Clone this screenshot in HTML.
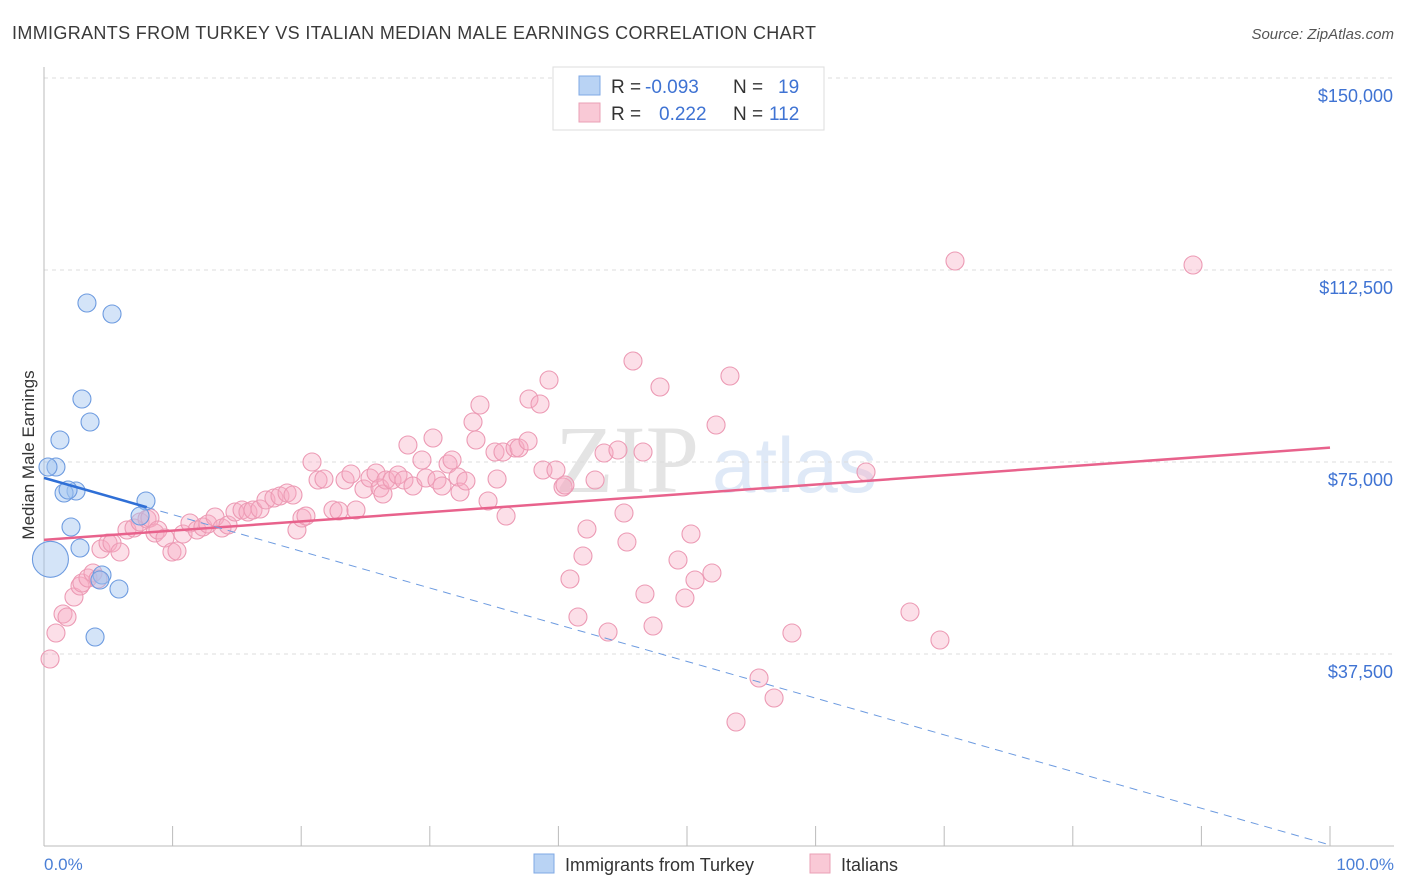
<!DOCTYPE html>
<html><head><meta charset="utf-8">
<style>
body{margin:0;background:#fff;font-family:"Liberation Sans",sans-serif;}
svg{display:block}
</style></head>
<body>
<svg id="chart" width="1406" height="892" viewBox="0 0 1406 892" xmlns="http://www.w3.org/2000/svg">
<text x="12" y="39" font-size="18" fill="#3a3a3a" textLength="804" lengthAdjust="spacing">IMMIGRANTS FROM TURKEY VS ITALIAN MEDIAN MALE EARNINGS CORRELATION CHART</text>
<text x="1394" y="39" font-size="15" fill="#555" text-anchor="end" font-style="italic">Source: ZipAtlas.com</text>
<g>
<text x="555" y="492" font-size="96" fill="#e4e4e4" font-family="Liberation Serif, serif">ZIP</text>
<text x="712" y="492" font-size="78" fill="#dfe9f7">atlas</text>
</g>
<g id="grid"></g>
<g id="axes"></g>
<g id="pinkPts"></g>
<g id="bluePts"></g>
<g id="lines"></g>
<text transform="translate(34,455) rotate(-90)" font-size="17" fill="#333" text-anchor="middle">Median Male Earnings</text>
<text x="44" y="870" font-size="17" fill="#4a7fd6">0.0%</text>
<text x="1394" y="870" font-size="17" fill="#4a7fd6" text-anchor="end">100.0%</text>
<g>
<rect x="553" y="67" width="271" height="63" fill="#fff" stroke="#ddd"/>
<rect x="579" y="76" width="21" height="19" fill="#b9d3f4" stroke="#7fa8e4"/>
<rect x="579" y="103" width="21" height="19" fill="#f9c9d6" stroke="#eaa0b6"/>
<text x="611" y="93" font-size="19" fill="#333">R =</text>
<text x="645" y="93" font-size="19" fill="#3f73d3">-0.093</text>
<text x="733" y="93" font-size="19" fill="#333">N =</text>
<text x="778" y="93" font-size="19" fill="#3f73d3">19</text>
<text x="611" y="120" font-size="19" fill="#333">R =</text>
<text x="659" y="120" font-size="19" fill="#3f73d3">0.222</text>
<text x="733" y="120" font-size="19" fill="#333">N =</text>
<text x="769" y="120" font-size="19" fill="#3f73d3">112</text>
</g>
<g>
<rect x="534" y="854" width="20" height="19" fill="#b9d3f4" stroke="#7fa8e4"/>
<text x="565" y="871" font-size="18" fill="#333">Immigrants from Turkey</text>
<rect x="810" y="854" width="20" height="19" fill="#f9c9d6" stroke="#eaa0b6"/>
<text x="841" y="871" font-size="18" fill="#333">Italians</text>
</g>
</svg>
<script>
const yTicks=[37500,75000,112500,150000];
const yTickLabels=["$37,500","$75,000","$112,500","$150,000"];
const pinkPx=[[50,659],[56,633],[63,614],[67,617],[74,597],[80,586],[82,583],[88,578],[93,573],[98,579],[101,549],[108,543],[112,543],[120,552],[127,530],[134,528],[140,522],[147,519],[150,518],[155,533],[158,530],[165,538],[172,552],[177,551],[183,534],[190,523],[197,530],[203,527],[208,524],[215,517],[222,528],[228,525],[235,512],[242,510],[248,512],[253,510],[260,509],[266,500],[274,498],[280,496],[287,493],[293,495],[297,530],[302,518],[306,516],[312,462],[318,480],[324,479],[333,510],[339,511],[345,480],[351,474],[356,510],[364,489],[370,478],[376,473],[380,488],[383,494],[386,480],[392,480],[398,475],[404,480],[408,445],[413,486],[422,460],[426,478],[433,438],[437,480],[442,486],[448,464],[452,460],[458,477],[460,492],[466,481],[473,422],[476,440],[480,405],[488,501],[495,452],[497,479],[503,452],[506,516],[515,448],[519,448],[528,441],[529,399],[540,404],[543,470],[549,380],[556,470],[563,487],[565,485],[570,579],[578,617],[583,556],[587,529],[595,480],[604,453],[608,632],[618,450],[624,513],[627,542],[633,361],[643,452],[645,594],[653,626],[660,387],[678,560],[685,598],[691,534],[695,580],[712,573],[716,425],[730,376],[736,722],[759,678],[774,698],[792,633],[866,472],[910,612],[940,640],[955,261],[1193,265]];
const bluePx=[[56,467],[48,467],[87,303],[112,314],[82,399],[90,422],[60,440],[76,491],[64,493],[68,490],[146,501],[140,516],[71,527],[80,548],[102,575],[100,580],[119,589],[95,637]];
const pinkX=pinkPx.map(p=>+((p[0]-44)/12.86).toFixed(2));
const pinkY=pinkPx.map(p=>Math.round((846-p[1])*195.3125));
const blueX=bluePx.map(p=>+((p[0]-44)/12.86).toFixed(2));
const blueY=bluePx.map(p=>Math.round((846-p[1])*195.3125));
const bigBlue=[0.5,56000];
const pinkTrend=[[0,59800],[100,77800]];
const blueTrend=[[0,71900],[100,200]];
const blueSolidEnd=8;

const X=v=>44+v*12.86, Y=v=>846-v/195.3125;
const NS="http://www.w3.org/2000/svg";
function mk(tag,attrs,parent){const e=document.createElementNS(NS,tag);for(const k in attrs)e.setAttribute(k,attrs[k]);parent.appendChild(e);return e;}
const grid=document.getElementById('grid'),axes=document.getElementById('axes');
yTicks.forEach((t,i)=>{
 const g=mk('line',{x1:44,x2:1394,y1:Y(t),y2:Y(t),stroke:'#ddd','stroke-dasharray':'4,4'},grid);
 
 
 const l=mk('text',{x:1393,y:Y(t)+24,'font-size':18,fill:'#3f73d3','text-anchor':'end'},axes);
 l.textContent=yTickLabels[i];
 
 
});
const ya=mk('line',{x1:44,x2:44,y1:67,y2:846,stroke:'#bbb'},axes);


const xa=mk('line',{x1:44,x2:1394,y1:846,y2:846,stroke:'#bbb'},axes);


for(let i=0;i<=10;i++){const t=mk('line',{x1:X(i*10),x2:X(i*10),y1:826,y2:846,stroke:'#bbb'},axes);
 
 }
const pg=document.getElementById('pinkPts');
pinkX.forEach((x,i)=>{const c=mk('circle',{cx:X(x),cy:Y(pinkY[i]),r:9,fill:'rgba(246,170,195,0.38)',stroke:'#ec9ab4','stroke-width':1.1},pg);
 
 });
const bg=document.getElementById('bluePts');
blueX.forEach((x,i)=>{const c=mk('circle',{cx:X(x),cy:Y(blueY[i]),r:9,fill:'rgba(160,195,240,0.45)',stroke:'#6d9be0','stroke-width':1.1},bg);
 
 });
const bb=mk('circle',{cx:X(bigBlue[0]),cy:Y(bigBlue[1]),r:18,fill:'rgba(160,195,240,0.45)',stroke:'#6d9be0','stroke-width':1.1},bg);


const lg=document.getElementById('lines');
const pt=mk('line',{x1:X(pinkTrend[0][0]),y1:Y(pinkTrend[0][1]),x2:X(pinkTrend[1][0]),y2:Y(pinkTrend[1][1]),stroke:'#e8628c','stroke-width':2.5},lg);


const by=x=>blueTrend[0][1]+(blueTrend[1][1]-blueTrend[0][1])*x/100;
const bd=mk('line',{x1:X(blueSolidEnd),y1:Y(by(blueSolidEnd)),x2:X(100),y2:Y(by(100)),stroke:'#6d9be0','stroke-width':1,'stroke-dasharray':'8,6'},lg);


const bs=mk('line',{x1:X(0),y1:Y(by(0)),x2:X(blueSolidEnd),y2:Y(by(blueSolidEnd)),stroke:'#2f6fd6','stroke-width':2.5},lg);


</script>
</body></html>
